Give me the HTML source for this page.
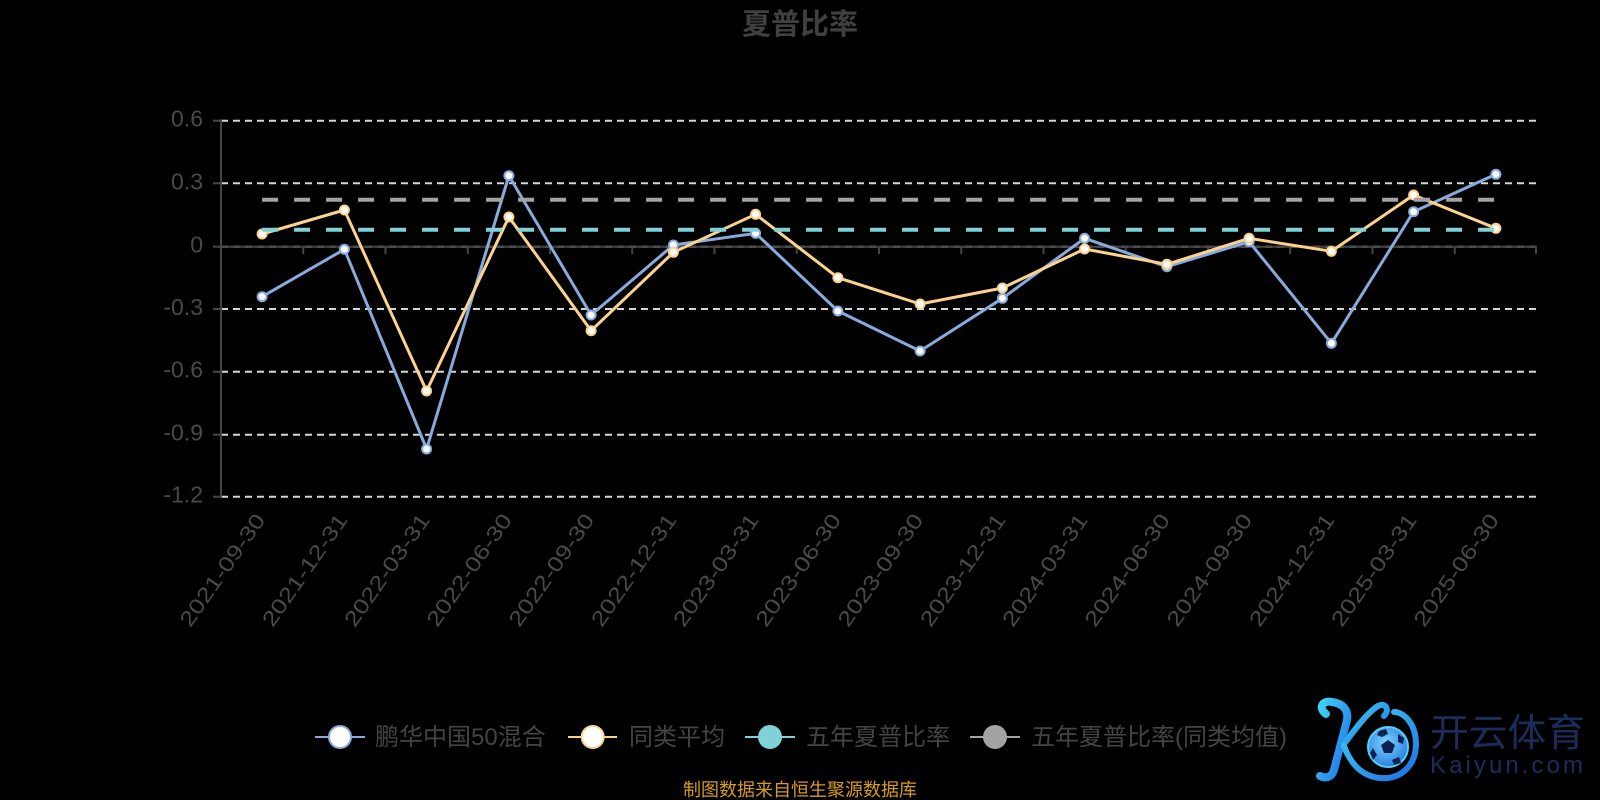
<!DOCTYPE html>
<html>
<head>
<meta charset="utf-8">
<style>
html,body{margin:0;padding:0;background:#000;}
svg{display:block;}
</style>
</head>
<body>
<svg width="1600" height="800" viewBox="0 0 1600 800" xmlns="http://www.w3.org/2000/svg">
<defs>
<linearGradient id="kg" x1="0" y1="0" x2="1" y2="1">
<stop offset="0" stop-color="#3fd3f5"/>
<stop offset="1" stop-color="#1f6fe6"/>
</linearGradient>
<radialGradient id="ballg" cx="0.45" cy="0.4" r="0.6">
<stop offset="0" stop-color="#7fd6ff"/>
<stop offset="1" stop-color="#2a7fe0"/>
</radialGradient>
</defs>
<rect x="0" y="0" width="1600" height="800" fill="#000"/>

<!-- Title -->
<text x="800" y="34" text-anchor="middle" font-family="'Liberation Sans','Noto Sans CJK SC',sans-serif" font-size="29" font-weight="bold" fill="#404040">夏普比率</text>

<!-- Grid lines -->
<g stroke="#d6d6d6" stroke-width="2" stroke-dasharray="7 5" fill="none">
<line x1="221" y1="120.7" x2="1537" y2="120.7"/>
<line x1="221" y1="183.3" x2="1537" y2="183.3"/>
<line x1="221" y1="246.7" x2="1537" y2="246.7"/>
<line x1="221" y1="309" x2="1537" y2="309"/>
<line x1="221" y1="371.7" x2="1537" y2="371.7"/>
<line x1="221" y1="434.7" x2="1537" y2="434.7"/>
<line x1="221" y1="496.7" x2="1537" y2="496.7"/>
</g>

<!-- Y axis -->
<g stroke="#464646" stroke-width="2">
<line x1="221" y1="120" x2="221" y2="497.5"/>
<line x1="213" y1="120.7" x2="221" y2="120.7"/>
<line x1="213" y1="183.3" x2="221" y2="183.3"/>
<line x1="213" y1="246.7" x2="221" y2="246.7"/>
<line x1="213" y1="309" x2="221" y2="309"/>
<line x1="213" y1="371.7" x2="221" y2="371.7"/>
<line x1="213" y1="434.7" x2="221" y2="434.7"/>
<line x1="213" y1="496.7" x2="221" y2="496.7"/>
</g>
<g font-family="'Liberation Sans',sans-serif" font-size="23" fill="#4a4a4a" text-anchor="end">
<text x="203" y="126.5">0.6</text>
<text x="203" y="189.3">0.3</text>
<text x="203" y="252.7">0</text>
<text x="203" y="315">-0.3</text>
<text x="203" y="377.7">-0.6</text>
<text x="203" y="440.7">-0.9</text>
<text x="203" y="502.7">-1.2</text>
</g>

<!-- X axis on zero -->
<g stroke="#464646" stroke-width="2">
<line x1="221" y1="246.7" x2="1537" y2="246.7"/>
<line x1="221" y1="246.7" x2="221" y2="254"/>
<line x1="303.25" y1="246.7" x2="303.25" y2="254"/>
<line x1="385.5" y1="246.7" x2="385.5" y2="254"/>
<line x1="467.75" y1="246.7" x2="467.75" y2="254"/>
<line x1="550" y1="246.7" x2="550" y2="254"/>
<line x1="632.25" y1="246.7" x2="632.25" y2="254"/>
<line x1="714.5" y1="246.7" x2="714.5" y2="254"/>
<line x1="796.75" y1="246.7" x2="796.75" y2="254"/>
<line x1="879" y1="246.7" x2="879" y2="254"/>
<line x1="961.25" y1="246.7" x2="961.25" y2="254"/>
<line x1="1043.5" y1="246.7" x2="1043.5" y2="254"/>
<line x1="1125.75" y1="246.7" x2="1125.75" y2="254"/>
<line x1="1208" y1="246.7" x2="1208" y2="254"/>
<line x1="1290.25" y1="246.7" x2="1290.25" y2="254"/>
<line x1="1372.5" y1="246.7" x2="1372.5" y2="254"/>
<line x1="1454.75" y1="246.7" x2="1454.75" y2="254"/>
<line x1="1536" y1="246.7" x2="1536" y2="254"/>
</g>

<!-- X labels -->
<g font-family="'Liberation Sans',sans-serif" font-size="21" fill="#4a4a4a" text-anchor="end">
<text transform="translate(266.1,520) rotate(-55)" textLength="132" lengthAdjust="spacingAndGlyphs">2021-09-30</text>
<text transform="translate(348.4,520) rotate(-55)" textLength="132" lengthAdjust="spacingAndGlyphs">2021-12-31</text>
<text transform="translate(430.6,520) rotate(-55)" textLength="132" lengthAdjust="spacingAndGlyphs">2022-03-31</text>
<text transform="translate(512.9,520) rotate(-55)" textLength="132" lengthAdjust="spacingAndGlyphs">2022-06-30</text>
<text transform="translate(595.1,520) rotate(-55)" textLength="132" lengthAdjust="spacingAndGlyphs">2022-09-30</text>
<text transform="translate(677.4,520) rotate(-55)" textLength="132" lengthAdjust="spacingAndGlyphs">2022-12-31</text>
<text transform="translate(759.6,520) rotate(-55)" textLength="132" lengthAdjust="spacingAndGlyphs">2023-03-31</text>
<text transform="translate(841.9,520) rotate(-55)" textLength="132" lengthAdjust="spacingAndGlyphs">2023-06-30</text>
<text transform="translate(924.1,520) rotate(-55)" textLength="132" lengthAdjust="spacingAndGlyphs">2023-09-30</text>
<text transform="translate(1006.4,520) rotate(-55)" textLength="132" lengthAdjust="spacingAndGlyphs">2023-12-31</text>
<text transform="translate(1088.6,520) rotate(-55)" textLength="132" lengthAdjust="spacingAndGlyphs">2024-03-31</text>
<text transform="translate(1170.9,520) rotate(-55)" textLength="132" lengthAdjust="spacingAndGlyphs">2024-06-30</text>
<text transform="translate(1253.1,520) rotate(-55)" textLength="132" lengthAdjust="spacingAndGlyphs">2024-09-30</text>
<text transform="translate(1335.4,520) rotate(-55)" textLength="132" lengthAdjust="spacingAndGlyphs">2024-12-31</text>
<text transform="translate(1417.6,520) rotate(-55)" textLength="132" lengthAdjust="spacingAndGlyphs">2025-03-31</text>
<text transform="translate(1499.9,520) rotate(-55)" textLength="132" lengthAdjust="spacingAndGlyphs">2025-06-30</text>
</g>

<!-- Blue series -->
<polyline fill="none" stroke="#88aadd" stroke-width="3" stroke-linejoin="round" points="262.1,296.7 344.4,249.3 426.6,449 508.9,175.7 591.1,315 673.4,245 755.6,233.3 837.9,311 920.1,351 1002.4,298.3 1084.6,238.3 1166.9,266.7 1249.1,241.7 1331.4,343.3 1413.6,211.7 1495.9,174.3"/>
<g fill="#fff" stroke="#88aadd" stroke-width="2">
<circle cx="262.1" cy="296.7" r="4.5"/><circle cx="344.4" cy="249.3" r="4.5"/><circle cx="426.6" cy="449" r="4.5"/><circle cx="508.9" cy="175.7" r="4.5"/><circle cx="591.1" cy="315" r="4.5"/><circle cx="673.4" cy="245" r="4.5"/><circle cx="755.6" cy="233.3" r="4.5"/><circle cx="837.9" cy="311" r="4.5"/><circle cx="920.1" cy="351" r="4.5"/><circle cx="1002.4" cy="298.3" r="4.5"/><circle cx="1084.6" cy="238.3" r="4.5"/><circle cx="1166.9" cy="266.7" r="4.5"/><circle cx="1249.1" cy="241.7" r="4.5"/><circle cx="1331.4" cy="343.3" r="4.5"/><circle cx="1413.6" cy="211.7" r="4.5"/><circle cx="1495.9" cy="174.3" r="4.5"/>
</g>

<!-- Orange series -->
<polyline fill="none" stroke="#fbd38e" stroke-width="3" stroke-linejoin="round" points="262.1,234 344.4,210 426.6,391 508.9,217 591.1,330.7 673.4,252.3 755.6,214.3 837.9,277.7 920.1,304 1002.4,288 1084.6,249 1166.9,264.3 1249.1,238.3 1331.4,251.3 1413.6,195 1495.9,228.3"/>
<g fill="#fff" stroke="#fbd38e" stroke-width="2">
<circle cx="262.1" cy="234" r="4.5"/><circle cx="344.4" cy="210" r="4.5"/><circle cx="426.6" cy="391" r="4.5"/><circle cx="508.9" cy="217" r="4.5"/><circle cx="591.1" cy="330.7" r="4.5"/><circle cx="673.4" cy="252.3" r="4.5"/><circle cx="755.6" cy="214.3" r="4.5"/><circle cx="837.9" cy="277.7" r="4.5"/><circle cx="920.1" cy="304" r="4.5"/><circle cx="1002.4" cy="288" r="4.5"/><circle cx="1084.6" cy="249" r="4.5"/><circle cx="1166.9" cy="264.3" r="4.5"/><circle cx="1249.1" cy="238.3" r="4.5"/><circle cx="1331.4" cy="251.3" r="4.5"/><circle cx="1413.6" cy="195" r="4.5"/><circle cx="1495.9" cy="228.3" r="4.5"/>
</g>

<!-- Dashed reference series -->
<line x1="262.1" y1="229.7" x2="1495.9" y2="229.7" stroke="#80d2d8" stroke-width="4" stroke-dasharray="16 16"/>
<line x1="262.1" y1="199.7" x2="1495.9" y2="199.7" stroke="#a3a3a3" stroke-width="4" stroke-dasharray="16 16"/>

<!-- Legend -->
<g stroke-width="2">
<line x1="315" y1="737" x2="365" y2="737" stroke="#88aadd"/>
<circle cx="340" cy="737" r="11" fill="#fff" stroke="#88aadd"/>
<line x1="568" y1="737" x2="617" y2="737" stroke="#fbd38e"/>
<circle cx="592.7" cy="737" r="11" fill="#fff" stroke="#fbd38e"/>
<line x1="745" y1="737" x2="795" y2="737" stroke="#80d2d8"/>
<circle cx="770" cy="737" r="12" fill="#80d2d8" stroke="none"/>
<line x1="970" y1="737" x2="1020" y2="737" stroke="#a3a3a3"/>
<circle cx="995" cy="737" r="12" fill="#a3a3a3" stroke="none"/>
</g>
<g font-family="'Liberation Sans','Noto Sans CJK SC',sans-serif" font-size="24" fill="#444">
<text x="375" y="745">鹏华中国50混合</text>
<text x="629" y="745">同类平均</text>
<text x="806" y="745">五年夏普比率</text>
<text x="1031" y="745">五年夏普比率(同类均值)</text>
</g>

<!-- Footer -->
<text x="800" y="796" text-anchor="middle" font-family="'Liberation Sans','Noto Sans CJK SC',sans-serif" font-size="18" fill="#d89c1e">制图数据来自恒生聚源数据库</text>

<!-- Watermark logo -->
<g>
<path d="M1326,714 C1318,708 1322,700 1332,702 C1345,704 1350,712 1346,724 L1334,770 C1332,777 1326,779 1320,776" fill="none" stroke="url(#kg)" stroke-width="8" stroke-linecap="round"/>
<path d="M1344,744 C1356,728 1368,712 1378,706 C1386,702 1390,710 1384,716" fill="none" stroke="url(#kg)" stroke-width="6" stroke-linecap="round"/>
<path d="M1344,746 C1350,762 1360,776 1380,778 C1402,780 1416,764 1416,744 C1416,724 1404,712 1394,712" fill="none" stroke="url(#kg)" stroke-width="6" stroke-linecap="round"/>
<circle cx="1388" cy="747" r="20" fill="url(#ballg)" stroke="#4fd0f5" stroke-width="2"/>
<polygon points="1388,740 1395,745 1392,753 1384,753 1381,745" fill="#0d2250"/>
<polygon points="1379,731 1386,729 1388,734 1382,737 1377,735" fill="#0d2250"/>
<polygon points="1398,734 1404,738 1403,744 1398,742" fill="#0d2250"/>
<polygon points="1373,748 1377,755 1373,760 1370,753" fill="#0d2250"/>
<polygon points="1392,760 1399,757 1401,763 1394,765" fill="#0d2250"/>
</g>
<text x="1430" y="746" font-family="'Noto Sans CJK SC','WenQuanYi Zen Hei',sans-serif" font-size="38" fill="#1c2d5c" textLength="155" lengthAdjust="spacingAndGlyphs">开云体育</text>
<text x="1430" y="773" font-family="'Liberation Sans',sans-serif" font-size="24" fill="#1c2d5c" textLength="153" lengthAdjust="spacing">Kaiyun.com</text>
</svg>
</body>
</html>
